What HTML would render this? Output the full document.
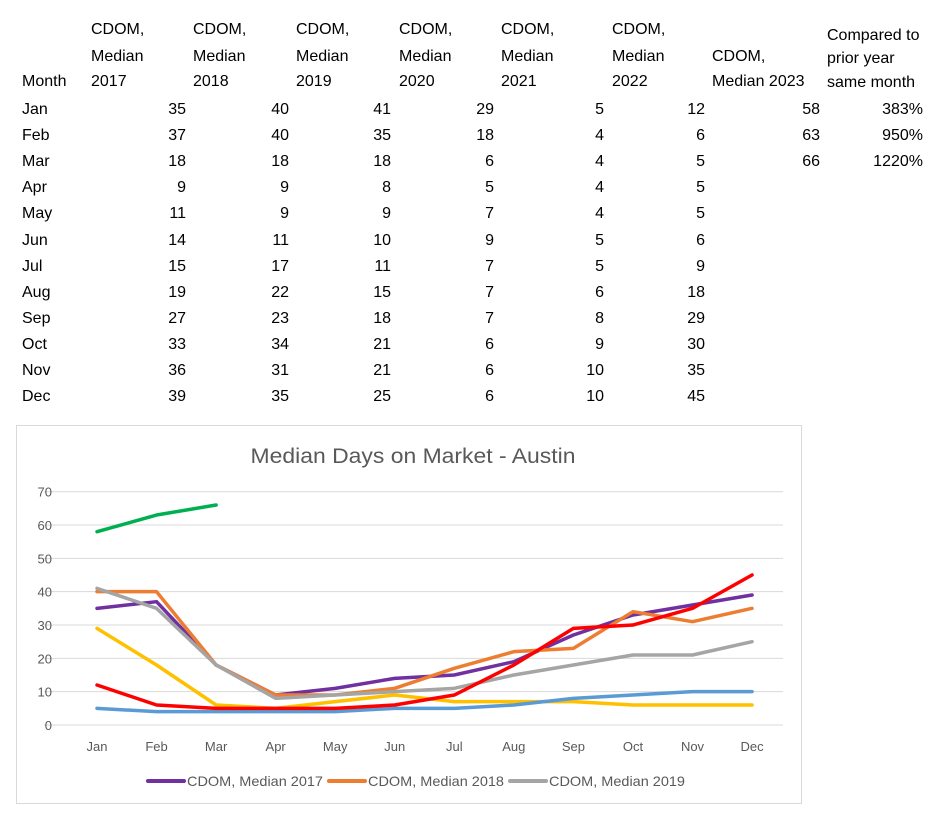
<!DOCTYPE html>
<html><head><meta charset="utf-8"><style>
body{margin:0;width:933px;height:816px;background:#fff;font-family:"Liberation Sans",sans-serif;color:#000;position:relative;overflow:hidden}
.t{position:absolute;font-size:16px;line-height:18px;white-space:nowrap}
.r{text-align:right}
</style></head><body>
<div id="table"></div>
<svg id="chart" width="933" height="816" style="position:absolute;left:0;top:0"></svg>
<script>
const months=["Jan","Feb","Mar","Apr","May","Jun","Jul","Aug","Sep","Oct","Nov","Dec"];
const s2017=[35,37,18,9,11,14,15,19,27,33,36,39];
const s2018=[40,40,18,9,9,11,17,22,23,34,31,35];
const s2019=[41,35,18,8,9,10,11,15,18,21,21,25];
const s2020=[29,18,6,5,7,9,7,7,7,6,6,6];
const s2021=[5,4,4,4,4,5,5,6,8,9,10,10];
const s2022=[12,6,5,5,5,6,9,18,29,30,35,45];
const s2023=[58,63,66];
const pct=["383%","950%","1220%"];
const yTicks=[0,10,20,30,40,50,60,70];
const series=[[s2017,"#7030a0"],[s2018,"#ed7d31"],[s2019,"#a5a5a5"],[s2020,"#ffc000"],[s2021,"#5b9bd5"],[s2022,"#ff0000"],[s2023,"#00b050"]];

const tb=document.getElementById('table');
function txt(s,x,y,right,name){const d=document.createElement('div');d.className='t'+(right?' r':'');d.textContent=s;
 if(right){d.style.left=(x-80)+'px';d.style.width='80px';}else d.style.left=x+'px';d.style.top=(y-9)+'px';
 
 
 tb.appendChild(d);}
const hx=[91,193,296,399,501,612];
const years=[2017,2018,2019,2020,2021,2022];
txt("Month",22,82,false,"month-header");
hx.forEach((x,i)=>{txt("CDOM,",x,30,false,"header-"+years[i]);txt("Median",x,57,false,"header-"+years[i]);txt(String(years[i]),x,82,false,"header-"+years[i]);});
txt("CDOM,",712,57,false,"header-2023");txt("Median 2023",712,82,false,"header-2023");
txt("Compared to",827,36,false,"compared-header");txt("prior year",827,59,false,"compared-header");txt("same month",827,83,false,"compared-header");
const colR=[186,289,391,494,604,705];
const cols=[s2017,s2018,s2019,s2020,s2021,s2022];
months.forEach((m,i)=>{const y=110+i*26.1;txt(m,22,y,false,"row-label");
 cols.forEach((c,j)=>txt(String(c[i]),colR[j],y,true,"cell"));
 if(i<s2023.length){txt(String(s2023[i]),820,y,true,"cell-2023");txt(pct[i],923,y,true,"cell-pct");}});

const svg=document.getElementById('chart');const NS="http://www.w3.org/2000/svg";
function el(t,a,name){const e=document.createElementNS(NS,t);for(const k in a)e.setAttribute(k,a[k]);
 
 
 svg.appendChild(e);return e;}
const x=i=>97+i*59.55;const y=v=>725-v*3.333;
el('rect',{x:16.5,y:425.5,width:785,height:378,fill:'#fff',stroke:'#d9d9d9'},"chart-border");
const title=el('text',{x:413,y:463,'text-anchor':'middle','font-size':21,fill:'#595959','font-family':'Liberation Sans, sans-serif',textLength:325,lengthAdjust:'spacingAndGlyphs'},"chart-title");title.textContent="Median Days on Market - Austin";
yTicks.forEach(v=>{el('line',{x1:44,x2:783,y1:y(v),y2:y(v),stroke:'#d9d9d9'},"gridline");
 const t=el('text',{x:52,y:y(v)+5,'text-anchor':'end','font-size':13,fill:'#595959','font-family':'Liberation Sans, sans-serif'},"y-tick-label");t.textContent=v;});
months.forEach((m,i)=>{const t=el('text',{x:x(i),y:751,'text-anchor':'middle','font-size':13,fill:'#595959','font-family':'Liberation Sans, sans-serif'},"x-tick-label");t.textContent=m;});
series.forEach(([d,c],k)=>{el('polyline',{points:d.map((v,i)=>x(i)+','+y(v)).join(' '),fill:'none',stroke:c,'stroke-width':3.5,'stroke-linejoin':'round','stroke-linecap':'round'},"series-"+(2017+k));});
const leg=[["CDOM, Median 2017","#7030a0",148],["CDOM, Median 2018","#ed7d31",329],["CDOM, Median 2019","#a5a5a5",510]];
leg.forEach(([n,c,lx])=>{el('line',{x1:lx,x2:lx+36,y1:781,y2:781,stroke:c,'stroke-width':4,'stroke-linecap':'round'},"legend-swatch");
 const t=el('text',{x:lx+39,y:786,'font-size':14,fill:'#595959','font-family':'Liberation Sans, sans-serif',textLength:136,lengthAdjust:'spacingAndGlyphs'},"legend-entry");t.textContent=n;});
</script>
</body></html>
